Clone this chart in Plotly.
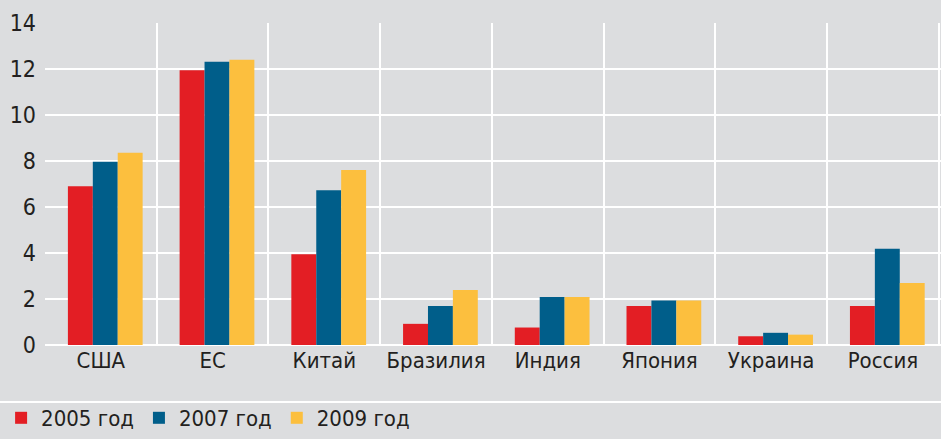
import plotly.graph_objects as go

countries = ["США", "ЕС", "Китай", "Бразилия", "Индия", "Япония", "Украина", "Россия"]
v2005 = [6.9, 11.95, 3.95, 0.92, 0.76, 1.7, 0.38, 1.7]
v2007 = [7.97, 12.32, 6.73, 1.7, 2.09, 1.93, 0.53, 4.18]
v2009 = [8.36, 12.4, 7.61, 2.39, 2.09, 1.93, 0.45, 2.7]
years = ["2005 год", "2007 год", "2009 год"]
colors = ["#e31e24", "#005e8a", "#fcbf3e"]

font = "DejaVu Sans Condensed, Liberation Sans Narrow, sans-serif"
bg = "#dcdddf"

# groups sit a little right of the cell centre in the original
bar_w = 0.223
offsets = [-0.295, -0.072, 0.151]

fig = go.Figure()
for name, vals, c, off in zip(years, [v2005, v2007, v2009], colors, offsets):
    fig.add_trace(go.Bar(x=countries, y=vals, name=name, marker_color=c,
                         marker_line_width=0, width=bar_w, offset=off))

fig.update_layout(
    width=941, height=439,
    paper_bgcolor=bg, plot_bgcolor=bg,
    margin=dict(l=45, r=0, t=23, b=94),
    barmode="overlay",
    font=dict(family=font, size=22, color="#231f20"),
    showlegend=True,
    legend=dict(orientation="h", x=-0.049, xanchor="left", y=-0.292, yanchor="bottom",
                font=dict(size=22), bgcolor="rgba(0,0,0,0)",
                itemwidth=30, tracegroupgap=0),
    shapes=[dict(type="line", xref="paper", yref="paper", x0=-0.1, x1=1.1,
                 y0=-0.177, y1=-0.177, line=dict(color="white", width=2))],
)
fig.update_xaxes(tickson="boundaries", showgrid=True, gridcolor="white", gridwidth=2,
                 range=[-0.5, 7.52], ticks="", showline=False, zeroline=False,
                 tickangle=0, automargin=False, tickfont=dict(size=22))
fig.update_yaxes(range=[0, 14], dtick=2, showgrid=True, gridcolor="white", gridwidth=2,
                 zeroline=True, zerolinecolor="white", zerolinewidth=2,
                 ticks="", ticklabelstandoff=8, automargin=False, tickfont=dict(size=23))

# remove the default page margin so the figure sits at the window's corner
fig.write_html("out.html", config={"displayModeBar": False},
               post_script="document.body.style.margin='0';"
               "document.body.style.overflow='hidden';"
               "document.body.style.background='#dcdddf';")
